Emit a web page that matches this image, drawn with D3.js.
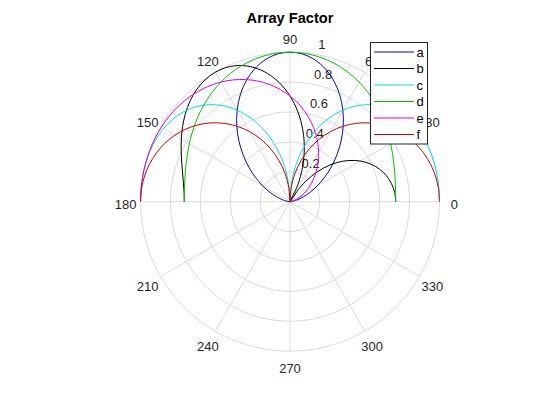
<!DOCTYPE html>
<html>
<head>
<meta charset="utf-8">
<script src="https://cdn.jsdelivr.net/npm/d3@7"></script>
<style>
body { margin: 0; background: #fff; }
text { font-family: "Liberation Sans", Arial, sans-serif; }
</style>
</head>
<body>
<div id="chart-area"></div>
<script>
// angles in degrees, 0..180 every 5
var thetaDeg = [0,5,10,15,20,25,30,35,40,45,50,55,60,65,70,75,80,85,90,
                95,100,105,110,115,120,125,130,135,140,145,150,155,160,165,170,175,180];

var seriesNames = ["a", "b", "c", "d", "e", "f"];
var seriesColors = ["#0a0a9c", "#000000", "#00e0e0", "#00c400", "#e000e0", "#c80000"];

// array factor magnitudes
var afA = [0,0.0060,0.0239,0.0535,0.0946,0.1466,0.2089,0.2803,0.3593,0.4440,0.5321,0.6208,0.7071,0.7876,0.8591,0.9185,0.9630,0.9906,1,
           0.9906,0.9630,0.9185,0.8591,0.7876,0.7071,0.6208,0.5321,0.4440,0.3593,0.2803,0.2089,0.1466,0.0946,0.0535,0.0239,0.0060,0];
var afB = [0.7071,0.7029,0.6900,0.6683,0.6370,0.5958,0.5438,0.4806,0.4059,0.3196,0.2224,0.1153,0,0.1212,0.2456,0.3698,0.4905,0.6040,0.7071,
           0.7970,0.8715,0.9291,0.9694,0.9926,1,0.9933,0.9750,0.9476,0.9139,0.8769,0.8392,0.8032,0.7708,0.7439,0.7238,0.7113,0.7071];
var afC = [1,1.0000,0.9997,0.9986,0.9955,0.9892,0.9779,0.9599,0.9332,0.8960,0.8467,0.7839,0.7071,0.6162,0.5118,0.3954,0.2694,0.1365,0,
           0.1365,0.2694,0.3954,0.5118,0.6162,0.7071,0.7839,0.8467,0.8960,0.9332,0.9599,0.9779,0.9892,0.9955,0.9986,0.9997,1.0000,1];
var afD = [0.7071,0.7092,0.7155,0.7258,0.7398,0.7572,0.7775,0.8001,0.8244,0.8497,0.8753,0.9002,0.9239,0.9454,0.9641,0.9794,0.9907,0.9977,1,
           0.9977,0.9907,0.9794,0.9641,0.9454,0.9239,0.9002,0.8753,0.8497,0.8244,0.8001,0.7775,0.7572,0.7398,0.7258,0.7155,0.7092,0.7071];
var afE = [0,0.0030,0.0119,0.0268,0.0473,0.0735,0.1050,0.1416,0.1827,0.2280,0.2769,0.3287,0.3827,0.4381,0.4941,0.5498,0.6044,0.6571,0.7071,
           0.7536,0.7967,0.8353,0.8694,0.8989,0.9239,0.9444,0.9609,0.9737,0.9832,0.9899,0.9945,0.9973,0.9989,0.9996,0.9999,1.0000,1];
var afF = [1,0.9970,0.9880,0.9729,0.9515,0.9238,0.8894,0.8484,0.8004,0.7457,0.6840,0.6158,0.5412,0.4608,0.3753,0.2855,0.1923,0.0967,0,
           0.0967,0.1923,0.2855,0.3753,0.4608,0.5412,0.6158,0.6840,0.7457,0.8004,0.8484,0.8894,0.9238,0.9515,0.9729,0.9880,0.9970,1];

var rhoTicks = [0.2, 0.4, 0.6, 0.8, 1];
var rhoTickLabels = ["0.2", "0.4", "0.6", "0.8", "1"];
var spokeAngles = [0, 30, 60, 90, 120, 150];
var angleTicks = [0, 30, 60, 90, 120, 150, 180, 210, 240, 270, 300, 330];
var angleTickLabels = ["0", "30", "60", "90", "120", "150", "180", "210", "240", "270", "300", "330"];

var width = 560;
var height = 420;
var cx = 290;
var cy = 201.7;
var rmax = 149.5;
var gridColor = "#dadada";
var textColor = "#262626";

var seriesData = [afA, afB, afC, afD, afE, afF];

var svg = d3.select("#chart-area")
    .append("svg")
    .attr("width", width)
    .attr("height", height);

svg.append("rect")
    .attr("width", width)
    .attr("height", height)
    .attr("fill", "#fff");

var g = svg.append("g")
    .attr("transform", "translate(" + cx + ", " + cy + ")");

var r = d3.scaleLinear().domain([0, 1]).range([0, rmax]);
var rad = d3.scaleLinear().domain([0, 180]).range([0, Math.PI]);

// grid circles
g.selectAll(".ring")
    .data(rhoTicks)
    .enter().append("circle")
    .attr("class", "ring")
    .attr("r", (d) => r(d))
    .attr("fill", "none")
    .attr("stroke", gridColor)
    .attr("stroke-width", 1);

// spokes
g.selectAll(".spoke")
    .data(spokeAngles)
    .enter().append("line")
    .attr("class", "spoke")
    .attr("x1", (d) => -r(1) * Math.cos(rad(d)))
    .attr("y1", (d) => r(1) * Math.sin(rad(d)))
    .attr("x2", (d) => r(1) * Math.cos(rad(d)))
    .attr("y2", (d) => -r(1) * Math.sin(rad(d)))
    .attr("stroke", gridColor)
    .attr("stroke-width", 1);

// angle labels
g.selectAll(".alabel")
    .data(angleTicks)
    .enter().append("text")
    .attr("class", "alabel")
    .attr("x", (d) => r(1.1) * Math.cos(rad(d)))
    .attr("y", (d) => -r(1.1) * Math.sin(rad(d)) + 2.5)
    .attr("dy", "0.35em")
    .attr("text-anchor", "middle")
    .attr("font-size", "13px")
    .attr("fill", textColor)
    .text((d, i) => angleTickLabels[i]);

// rho labels, placed along 82 degrees
var c82 = Math.cos(rad(82));
var s82 = Math.sin(rad(82));
g.selectAll(".rlabel")
    .data(rhoTicks)
    .enter().append("text")
    .attr("class", "rlabel")
    .attr("x", (d) => r(d + 0.01) * c82 + 7.2)
    .attr("y", (d) => -r(d + 0.01) * s82 - 3)
    .attr("font-size", "13px")
    .attr("fill", textColor)
    .text((d, i) => rhoTickLabels[i]);

// pattern curves
var line = d3.lineRadial()
    .angle((d) => Math.PI / 2 - rad(d[0]))
    .radius((d) => r(d[1]))
    .curve(d3.curveCatmullRom.alpha(0.5));

seriesData.forEach((vals, i) => {
    var pts = thetaDeg.map((t, j) => [t, vals[j]]);
    g.append("path")
        .attr("d", line(pts))
        .attr("fill", "none")
        .attr("stroke", seriesColors[i])
        .attr("stroke-width", 1);
});

// title
svg.append("text")
    .attr("x", cx)
    .attr("y", 23)
    .attr("text-anchor", "middle")
    .attr("font-size", "14.6px")
    .attr("font-weight", "bold")
    .attr("fill", "#000")
    .text("Array Factor");

// legend
var lg = svg.append("g").attr("transform", "translate(370.5, 42.5)");
lg.append("rect")
    .attr("width", 57)
    .attr("height", 101.5)
    .attr("fill", "#fff")
    .attr("stroke", "#262626")
    .attr("stroke-width", 1);

var rows = lg.selectAll(".row")
    .data(seriesNames)
    .enter().append("g")
    .attr("class", "row")
    .attr("transform", (d, i) => "translate(0, " + (9.5 + i * 16.5) + ")");

rows.append("line")
    .attr("x1", 3.5)
    .attr("x2", 43.5)
    .attr("stroke", (d, i) => seriesColors[i])
    .attr("stroke-width", 1);

rows.append("text")
    .attr("x", 46)
    .attr("dy", "0.35em")
    .attr("font-size", "13px")
    .attr("fill", "#000")
    .text((d) => d);
</script>
</body>
</html>
